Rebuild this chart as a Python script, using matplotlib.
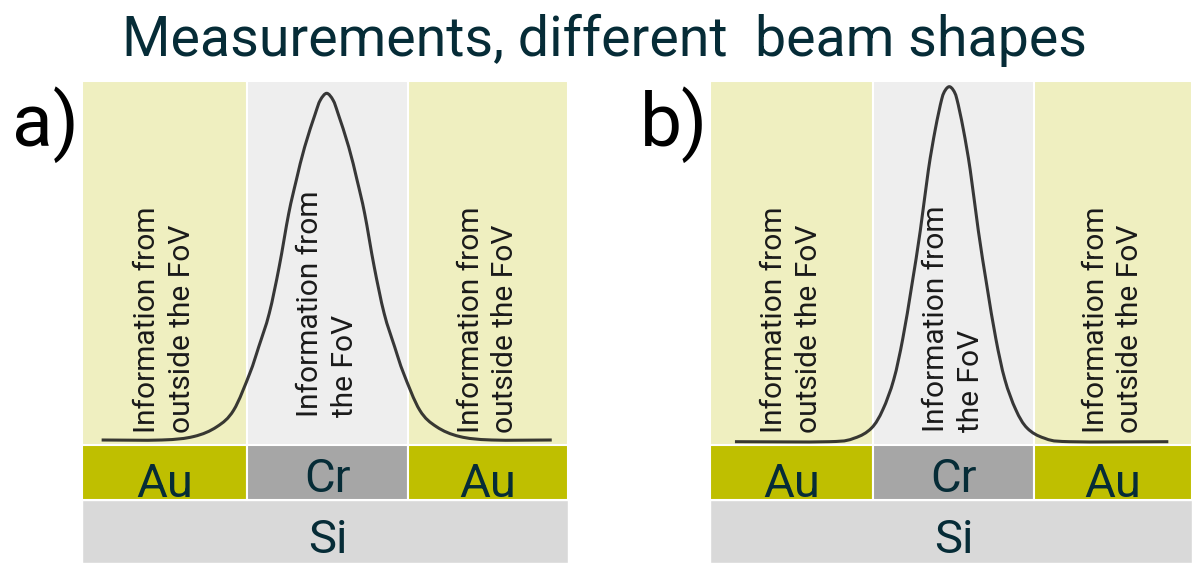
import numpy as np
import matplotlib.pyplot as plt
from matplotlib.patches import Rectangle, PathPatch
from matplotlib.path import Path
from matplotlib.transforms import blended_transform_factory

plt.rcParams['font.family'] = ['Roboto', 'DejaVu Sans']

title = 'Measurements, different  beam shapes'
panel_labels = ['a)', 'b)']
zone_texts = ['Information from\noutside the FoV',
              'Information from\nthe FoV',
              'Information from\noutside the FoV']
layer_names = ['Au', 'Cr', 'Au']
substrate = 'Si'

# beam profiles: position (in FoV widths, 0 = FoV centre), relative intensity
beam_a_x = [-1.403, -1.030, -0.831, -0.688, -0.583, -0.483, -0.427, -0.362, -0.300, -0.241,
            -0.194, -0.142, -0.076, -0.045, -0.005, 0.035, 0.066, 0.132, 0.184, 0.231,
            0.290, 0.352, 0.417, 0.473, 0.573, 0.678, 0.821, 1.020, 1.393]
beam_a_y = [0.0, 0.0, 0.01, 0.038, 0.086, 0.192, 0.269, 0.365, 0.50, 0.653,
            0.749, 0.845, 0.941, 0.98, 1.0, 0.98, 0.941, 0.845, 0.749, 0.653,
            0.50, 0.365, 0.269, 0.192, 0.086, 0.038, 0.01, 0.0, 0.0]

beam_b_x = [-1.357, -0.771, -0.616, -0.510, -0.439, -0.371, -0.315, -0.259, -0.206, -0.156,
            -0.113, -0.073, -0.051, -0.026, -0.001, 0.021, 0.061, 0.104, 0.154, 0.207,
            0.263, 0.319, 0.387, 0.458, 0.564, 0.719, 1.334]
beam_b_y = [0.0, 0.0, 0.01, 0.038, 0.09, 0.175, 0.29, 0.44, 0.595, 0.765,
            0.88, 0.965, 0.99, 1.0, 0.99, 0.965, 0.88, 0.765, 0.595, 0.44,
            0.29, 0.175, 0.09, 0.038, 0.01, 0.0, 0.0]


def smooth_path(xs, ys):
    # Catmull-Rom through the read points, drawn as cubic Bezier segments
    P = np.column_stack([xs, ys])
    n = len(P)
    verts = [P[0]]
    codes = [Path.MOVETO]
    for i in range(n - 1):
        p0 = P[max(i - 1, 0)]
        p1 = P[i]
        p2 = P[i + 1]
        p3 = P[min(i + 2, n - 1)]
        verts += [p1 + (p2 - p0) / 6, p2 - (p3 - p1) / 6, p2]
        codes += [Path.CURVE4] * 3
    return Path(verts, codes)


W, H = 1192, 563
fig = plt.figure(figsize=(W / 100, H / 100), dpi=100)

c_zone_out = '#efefc0'
c_zone_fov = '#eeeeee'
c_au = '#bfbf00'
c_cr = '#a6a6a6'
c_si = '#d9d9d9'
c_text = '#062c37'

panels = [
    dict(left=82, width=486, xlim=(-1.525, 1.494), ylim=(-0.3548, 1.0355),
         x=beam_a_x, y=beam_a_y, mid=0.3029, label_x=12),
    dict(left=710, width=482, xlim=(-1.512, 1.481), ylim=(-0.3417, 1.016),
         x=beam_b_x, y=beam_b_y, mid=0.2724, label_x=640),
]

ax_h = 482
for p, lab in zip(panels, panel_labels):
    ax = fig.add_axes([p['left'] / W, 0, p['width'] / W, ax_h / H])
    ax.set_xlim(*p['xlim'])
    ax.set_ylim(*p['ylim'])
    ax.axis('off')
    tr = blended_transform_factory(ax.transData, ax.transAxes)

    x0, x1 = p['xlim']
    edges = [x0, -0.5, 0.5, x1]
    zone_cols = [c_zone_out, c_zone_fov, c_zone_out]
    layer_cols = [c_au, c_cr, c_au]
    for i in range(3):
        ax.add_patch(Rectangle((edges[i], 0.2448), edges[i + 1] - edges[i], 1 - 0.2448,
                               transform=tr, facecolor=zone_cols[i], edgecolor='white',
                               lw=1.5, zorder=1))
        ax.add_patch(Rectangle((edges[i], 0.1307), edges[i + 1] - edges[i], 0.2448 - 0.1307,
                               transform=tr, facecolor=layer_cols[i], edgecolor='white',
                               lw=1.5, zorder=1))
        cx = (edges[i] + edges[i + 1]) / 2 if i != 1 else 0
        base = 0.1473 if layer_names[i] == 'Cr' else 0.1369
        ax.text(cx, base, layer_names[i], transform=tr, ha='center', va='baseline',
                fontsize=34, color=c_text, zorder=3)
        ty = p['mid'] if i == 1 else 0.2697
        ax.text(cx, ty, zone_texts[i], transform=tr, ha='center', va='bottom',
                rotation=90, multialignment='left', fontsize=21.5,
                color='#1a1a1a', linespacing=1.3, zorder=3)
    ax.add_patch(Rectangle((x0, 0), x1 - x0, 0.1307, transform=tr, facecolor=c_si,
                           edgecolor='white', lw=1.0, zorder=1))
    ax.text(0, 0.0207, substrate, transform=tr, ha='center', va='baseline',
            fontsize=34, color=c_text, zorder=3)

    ax.add_patch(PathPatch(smooth_path(p['x'], p['y']), facecolor='none',
                           edgecolor='#1e1e1e', lw=2.2, alpha=0.88, zorder=2,
                           joinstyle='round', capstyle='butt'))

    fig.text(p['label_x'] / W, 1 - 146 / H, lab, ha='left', va='baseline',
             fontsize=54, color='black')

fig.text(604 / W, 1 - 56 / H, title, ha='center', va='baseline', fontsize=40,
         color=c_text)

fig.savefig('out.png', dpi=100)
